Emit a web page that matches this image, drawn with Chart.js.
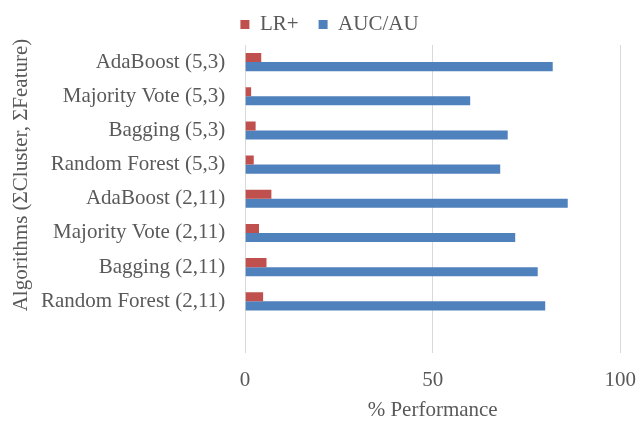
<html>
<head>
<script src="https://cdn.jsdelivr.net/npm/chart.js@4.4.1/dist/chart.umd.min.js"></script>
<style>
  body { margin: 0; background: #fff; }
  #wrap { width: 636px; height: 421px; }
</style>
</head>
<body>
<div id="wrap">
<canvas id="chart" width="636" height="421"></canvas>
</div>
<script>
// algorithm / (ΣCluster, ΣFeature) rows, top to bottom; last row left blank
var algorithms = [
  "AdaBoost (5,3)",
  "Majority Vote (5,3)",
  "Bagging (5,3)",
  "Random Forest (5,3)",
  "AdaBoost (2,11)",
  "Majority Vote (2,11)",
  "Bagging (2,11)",
  "Random Forest (2,11)",
  ""
];
var lrPlus = [4.3, 1.6, 2.8, 2.3, 7.0, 3.7, 5.7, 4.8, null];
var aucAu  = [82, 60, 70, 68, 86, 72, 78, 80, null];
var xTicks = [0, 50, 100];

var serif = "'Liberation Serif', 'Times New Roman', serif";
var grey = '#595959';
var fsize = 21;

// vertical axis title, drawn by hand so it sits where we want it
var yTitle = {
  id: 'yTitle',
  afterLayout: function(chart) {
    // nudge the legend a bit left
    chart.legend.left -= 6;
    chart.legend.right -= 6;
  },
  afterDraw: function(chart) {
    var c = chart.ctx, a = chart.chartArea;
    c.save();
    c.translate(21, a.top + 130);
    c.rotate(-Math.PI / 2);
    c.font = fsize + 'px ' + serif;
    c.fillStyle = grey;
    c.textAlign = 'center';
    c.textBaseline = 'middle';
    c.fillText('Algorithms (\u03A3Cluster, \u03A3Feature)', 0, 0);
    c.restore();
  }
};

var ctx = document.getElementById('chart').getContext('2d');
var chart = new Chart(ctx, {
  type: 'bar',
  data: {
    labels: algorithms,
    datasets: [{
      label: 'LR+',
      data: lrPlus,
      backgroundColor: '#C0504D'
    }, {
      label: 'AUC/AU',
      data: aucAu,
      backgroundColor: '#4F81BD'
    }]
  },
  options: {
    indexAxis: 'y',
    responsive: false,
    animation: false,
    layout: { padding: { left: 21, right: -14, top: -6, bottom: -2 } },
    datasets: {
      bar: { barPercentage: 1, categoryPercentage: 0.53 }
    },
    scales: {
      x: {
        min: 0,
        max: 100,
        afterBuildTicks: function(axis) {
          axis.ticks = xTicks.map(function(v) { return { value: v }; });
        },
        // invisible tick marks just push the labels down
        grid: { color: '#d9d9d9', lineWidth: 1, drawTicks: true, tickLength: 15, tickColor: 'rgba(0,0,0,0)' },
        border: { display: false },
        ticks: { color: grey, font: { family: serif, size: fsize }, padding: 0 },
        title: {
          display: true,
          text: '% Performance',
          color: grey,
          font: { family: serif, size: fsize },
          padding: { top: 5, bottom: 0 }
        }
      },
      y: {
        grid: { display: false, drawTicks: false },
        border: { display: false },
        ticks: { color: grey, font: { family: serif, size: fsize }, padding: 20, autoSkip: false }
      }
    },
    plugins: {
      legend: {
        position: 'top',
        labels: {
          color: grey,
          font: { family: serif, size: fsize },
          boxWidth: 9,
          boxHeight: 9,
          padding: 20
        }
      },
      tooltip: { enabled: false }
    }
  },
  plugins: [yTitle]
});
</script>
</body>
</html>
